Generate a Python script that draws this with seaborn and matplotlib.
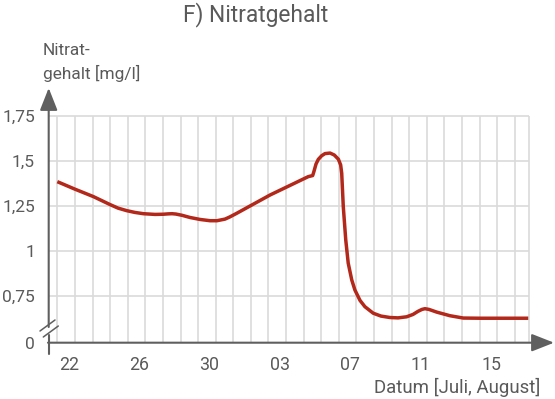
import matplotlib
matplotlib.use("Agg")
import matplotlib.pyplot as plt
from matplotlib.lines import Line2D
import pandas as pd
import seaborn as sns

# ---------------- data ----------------
days = [0.00, 1.01, 2.05, 2.99, 3.45, 3.94, 4.41, 4.89, 5.55, 6.02, 6.29, 6.52,
        6.74, 7.09, 7.54, 8.11, 8.68, 9.07, 9.53, 9.80, 10.19, 12.09, 14.26,
        14.51, 14.58, 14.70, 14.83, 15.02, 15.21, 15.50, 15.74, 15.97, 16.10,
        16.16, 16.25, 16.39, 16.53, 16.73, 16.91, 17.20, 17.48, 17.95, 18.39,
        18.90, 19.36, 19.85, 20.21, 20.49, 20.72, 20.89, 21.12, 21.56, 22.31,
        23.07, 24.02, 26.76]
nitrat = [1.385, 1.343, 1.302, 1.258, 1.238, 1.224, 1.214, 1.207, 1.203, 1.204,
          1.206, 1.207, 1.205, 1.198, 1.186, 1.175, 1.168, 1.168, 1.177, 1.189,
          1.209, 1.311, 1.413, 1.419, 1.441, 1.483, 1.509, 1.529, 1.541, 1.544,
          1.533, 1.510, 1.478, 1.432, 1.246, 1.061, 0.932, 0.839, 0.783, 0.725,
          0.690, 0.654, 0.638, 0.630, 0.628, 0.634, 0.647, 0.664, 0.675, 0.679,
          0.675, 0.660, 0.640, 0.627, 0.626, 0.626]
x_tick_days = [0, 4, 8, 12, 16, 20, 24]
x_tick_labels = ["22", "26", "30", "03", "07", "11", "15"]
y_ticks = [0.75, 1.0, 1.25, 1.5, 1.75]
y_tick_labels = ["0,75", "1", "1,25", "1,5", "1,75"]
y_zero_label = "0"

df = pd.DataFrame({"Tag": days, "Nitrat": nitrat})

# ---------------- style ----------------
sns.set_theme(style="white")
plt.rcParams["font.family"] = ["Roboto", "DejaVu Sans"]

W, H = 555, 399
txt = "#5a5a5a"
axcol = "#5f5f5f"
grid_col = "#dadada"
line_col = "#b2281a"

fig = plt.figure(figsize=(W / 100, H / 100), dpi=100)

def fx(px):
    return px / W

def fy(py):
    return 1 - py / H

left_px, right_px, top_px, bot_px = 48.7, 529.3, 116.0, 342.7
ax = fig.add_axes([fx(left_px), fy(bot_px), fx(right_px - left_px), (bot_px - top_px) / H])

xmin, xmax = -0.49, 26.82
ymin, ymax = 0.49, 1.75

for d in range(0, 27):
    ax.axvline(d, color=grid_col, lw=1.2, zorder=0)
ax.axvline(xmax, color=grid_col, lw=1.2, zorder=0, clip_on=False)
for v in y_ticks:
    ax.axhline(v, color=grid_col, lw=1.2, zorder=0, clip_on=False)

sns.lineplot(data=df, x="Tag", y="Nitrat", ax=ax, color=line_col, lw=2.5,
             estimator=None, sort=False, zorder=3)
for l in ax.lines:
    l.set_solid_joinstyle("round")
    l.set_solid_capstyle("butt")

ax.set_xlim(xmin, xmax)
ax.set_ylim(ymin, ymax)
ax.set_xlabel("")
ax.set_ylabel("")
ax.grid(False)
for s in ax.spines.values():
    s.set_visible(False)
ax.patch.set_alpha(0)

ax.set_xticks([d + 0.65 for d in x_tick_days])
ax.set_xticklabels(x_tick_labels)
ax.set_xticks(list(range(27)), minor=True)
ax.tick_params(axis="x", which="major", length=0, pad=9.5, labelsize=12.8, labelcolor=txt)
ax.tick_params(axis="x", which="minor", length=7.5, width=1.5, color=axcol, direction="out")

ax.set_yticks([ymin] + y_ticks)
ax.set_yticklabels([y_zero_label] + y_tick_labels)
ax.tick_params(axis="y", length=6.5, width=1.5, color=axcol, pad=3.4,
               labelsize=12.5, labelcolor=txt, direction="out")

# axes with arrows
arrow_style = "-|>,head_length=1.37,head_width=0.54"
ax.annotate("", xy=(fx(554), fy(bot_px)), xytext=(fx(left_px - 0.7), fy(bot_px)),
            xycoords="figure fraction", textcoords="figure fraction",
            arrowprops=dict(arrowstyle=arrow_style, color=axcol, lw=1.5,
                            shrinkA=0, shrinkB=0, mutation_scale=10))
ax.annotate("", xy=(fx(left_px), fy(88)), xytext=(fx(left_px), fy(327)),
            xycoords="figure fraction", textcoords="figure fraction",
            arrowprops=dict(arrowstyle=arrow_style, color=axcol, lw=1.5,
                            shrinkA=0, shrinkB=0, mutation_scale=10))
fig.add_artist(Line2D([fx(left_px), fx(left_px)], [fy(354), fy(335)],
                      color=axcol, lw=1.5, transform=fig.transFigure))
# axis break marks
for (x0, y0, x1, y1) in [(40, 331, 55, 320), (43.3, 337, 58.3, 326)]:
    fig.add_artist(Line2D([fx(x0), fx(x1)], [fy(y0), fy(y1)],
                          color=axcol, lw=1.1, transform=fig.transFigure))

# texts
fig.text(fx(256), fy(21.7), "F) Nitratgehalt", ha="center", va="baseline",
         fontsize=16.4, color=txt)
fig.text(fx(42.7), fy(55), "Nitrat-", ha="left", va="baseline", fontsize=12.4, color=txt)
fig.text(fx(42.7), fy(79.3), "gehalt [mg/l]", ha="left", va="baseline", fontsize=12.4, color=txt)
fig.text(fx(540), fy(392.7), "Datum [Juli, August]", ha="right", va="baseline",
         fontsize=13.4, color=txt)

fig.savefig("out.png", dpi=100)
